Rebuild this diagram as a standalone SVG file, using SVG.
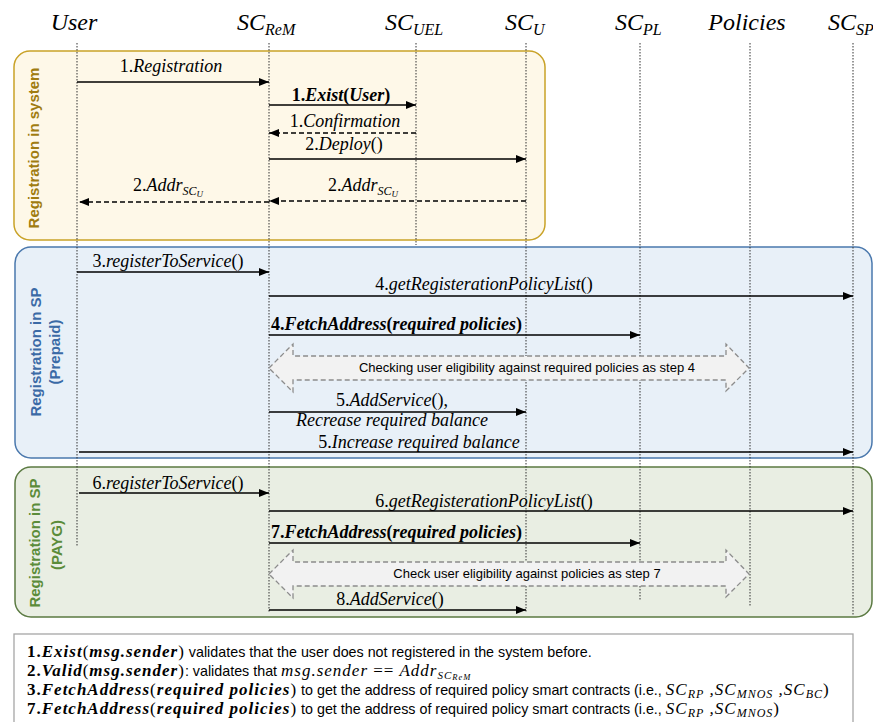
<svg xmlns="http://www.w3.org/2000/svg" width="873" height="722" viewBox="0 0 873 722">
<defs>
<marker id="ah" viewBox="0 0 10 8" refX="10" refY="4" markerWidth="10" markerHeight="8" markerUnits="userSpaceOnUse" orient="auto">
<path d="M0,0 L10,4 L0,8 Z" fill="#000"/>
</marker>
</defs>
<style>
.m{font-family:"Liberation Serif","DejaVu Serif",serif;font-style:italic;font-size:18px;fill:#000}
.t{font-family:"Liberation Serif","DejaVu Serif",serif;font-style:italic;font-size:24px;fill:#000}
.up{font-style:normal}
.b{font-weight:bold}
.s{font-family:"Liberation Sans",Arial,sans-serif;font-size:14.3px;fill:#000;font-style:normal;font-weight:normal;letter-spacing:0}
.lg{font-family:"Liberation Serif","DejaVu Serif",serif;font-style:italic;font-size:17px;fill:#000;letter-spacing:1px}
.side{font-family:"Liberation Sans",Arial,sans-serif;font-weight:bold;font-size:15px;text-anchor:middle}
.life{stroke:#333;stroke-width:1;stroke-dasharray:1.5 1.5;fill:none}
.msg{stroke:#000;stroke-width:1.5;fill:none;marker-end:url(#ah)}
.dash{stroke-dasharray:5 3}
.blk{fill:#f2f2f2;stroke:#8c8c8c;stroke-width:1.3;stroke-dasharray:5 3}
.bt{font-family:"Liberation Sans",Arial,sans-serif;font-size:13px;fill:#000;text-anchor:middle}
</style>
<rect width="873" height="722" fill="#fff"/>

<g id="frame-system">
<rect x="14" y="51" width="531" height="189" rx="16" fill="#fef8e8" stroke="#c9a227" stroke-width="1.5"/>
<text class="side" fill="#a07c10" transform="translate(39,148) rotate(-90)">Registration in system</text>
</g>
<g id="frame-prepaid">
<rect x="15" y="247" width="857" height="211" rx="16" fill="#e8f0f8" stroke="#4a78ad" stroke-width="1.5"/>
<text class="side" fill="#3b6aa6" transform="translate(41,352) rotate(-90)">Registration in SP</text>
<text class="side" fill="#3b6aa6" transform="translate(60,352) rotate(-90)">(Prepaid)</text>
</g>
<g id="frame-payg">
<rect x="15" y="467" width="857" height="150" rx="16" fill="#e9eee3" stroke="#5b7a42" stroke-width="1.5"/>
<text class="side" fill="#5b8c3a" transform="translate(40,543) rotate(-90)">Registration in SP</text>
<text class="side" fill="#5b8c3a" transform="translate(62,545) rotate(-90)">(PAYG)</text>
</g>

<g id="lifeline-user"><text class="t" x="74" y="30" text-anchor="middle">User</text><line class="life" x1="77" y1="43" x2="77" y2="547"/></g>
<g id="lifeline-screm"><text class="t" x="237" y="30">SC<tspan font-size="16" dy="5">ReM</tspan></text><line class="life" x1="269" y1="43" x2="269" y2="613"/></g>
<g id="lifeline-scuel"><text class="t" x="385" y="30">SC<tspan font-size="16" dy="5">UEL</tspan></text><line class="life" x1="416" y1="43" x2="416" y2="245"/></g>
<g id="lifeline-scu"><text class="t" x="505" y="30">SC<tspan font-size="16" dy="5">U</tspan></text><line class="life" x1="526" y1="43" x2="526" y2="612"/></g>
<g id="lifeline-scpl"><text class="t" x="615" y="30">SC<tspan font-size="16" dy="5">PL</tspan></text><line class="life" x1="640" y1="43" x2="640" y2="600"/></g>
<g id="lifeline-policies"><text class="t" x="747" y="30" text-anchor="middle">Policies</text><line class="life" x1="750" y1="43" x2="750" y2="607"/></g>
<g id="lifeline-scsp"><text class="t" x="828" y="30">SC<tspan font-size="16" dy="5">SP</tspan></text><line class="life" x1="853" y1="43" x2="853" y2="615"/></g>

<g id="connectors">
<line class="msg" x1="77" y1="82" x2="269" y2="82"/>
<line class="msg" x1="269" y1="105" x2="416" y2="105"/>
<line class="msg dash" x1="416" y1="133" x2="269" y2="133"/>
<line class="msg" x1="269" y1="159" x2="526" y2="159"/>
<line class="msg dash" x1="526" y1="201" x2="269" y2="201"/>
<line class="msg dash" x1="269" y1="202" x2="79" y2="202"/>

<line class="msg" x1="77" y1="272" x2="269" y2="272"/>
<line class="msg" x1="269" y1="296" x2="853" y2="296"/>
<line class="msg" x1="269" y1="335" x2="640" y2="335"/>
<polygon class="blk" points="269,368 293,344 293,356 726,356 726,344 749,368 726,391 726,380 293,380 293,392"/>
<line class="msg" x1="269" y1="412" x2="526" y2="412"/>
<line class="msg" x1="79" y1="452" x2="853" y2="452"/>

<line class="msg" x1="79" y1="493" x2="269" y2="493"/>
<line class="msg" x1="269" y1="511" x2="853" y2="511"/>
<line class="msg" x1="269" y1="543" x2="640" y2="543"/>
<polygon class="blk" points="269,574 293,550 293,562 726,562 726,550 749,574 726,597 726,586 293,586 293,598"/>
<line class="msg" x1="269" y1="610" x2="526" y2="610"/>
</g>

<g id="labels">
<text class="m" x="171" y="72" text-anchor="middle"><tspan class="up">1.</tspan>Registration</text>
<text class="m b" x="341" y="101" text-anchor="middle"><tspan class="up">1.</tspan>Exist<tspan class="up">(</tspan>User<tspan class="up">)</tspan></text>
<text class="m" x="345" y="127" text-anchor="middle"><tspan class="up">1.</tspan>Confirmation</text>
<text class="m" x="344" y="150" text-anchor="middle"><tspan class="up">2.</tspan>Deploy<tspan class="up">()</tspan></text>
<text class="m" x="133" y="191"><tspan class="up">2.</tspan>Addr<tspan font-size="12" dy="4">SC</tspan><tspan font-size="9" dy="2">U</tspan></text>
<text class="m" x="328" y="191"><tspan class="up">2.</tspan>Addr<tspan font-size="12" dy="4">SC</tspan><tspan font-size="9" dy="2">U</tspan></text>

<text class="m" x="168" y="267" text-anchor="middle"><tspan class="up">3.</tspan>registerToService<tspan class="up">()</tspan></text>
<text class="m" x="484" y="290" text-anchor="middle"><tspan class="up">4.</tspan>getRegisterationPolicyList<tspan class="up">()</tspan></text>
<text class="m b" x="271" y="330"><tspan class="up">4.</tspan>FetchAddress<tspan class="up">(</tspan>required policies<tspan class="up">)</tspan></text>
<text class="bt" x="527" y="372">Checking user eligibility against required policies as step 4</text>
<text class="m" x="392" y="406" text-anchor="middle"><tspan class="up">5.</tspan>AddService<tspan class="up">(),</tspan></text>
<text class="m" x="392" y="426" text-anchor="middle">Recrease required balance</text>
<text class="m" x="419" y="448" text-anchor="middle"><tspan class="up">5.</tspan>Increase required balance</text>

<text class="m" x="168" y="489" text-anchor="middle"><tspan class="up">6.</tspan>registerToService<tspan class="up">()</tspan></text>
<text class="m" x="484" y="507" text-anchor="middle"><tspan class="up">6.</tspan>getRegisterationPolicyList<tspan class="up">()</tspan></text>
<text class="m b" x="271" y="538"><tspan class="up">7.</tspan>FetchAddress<tspan class="up">(</tspan>required policies<tspan class="up">)</tspan></text>
<text class="bt" x="527" y="578">Check user eligibility against policies as step 7</text>
<text class="m" x="390" y="605" text-anchor="middle"><tspan class="up">8.</tspan>AddService<tspan class="up">()</tspan></text>
</g>

<g id="legend">
<rect x="14" y="634" width="839" height="100" fill="#fff" stroke="#a6a6a6" stroke-width="1.3"/>
<text class="lg" x="27" y="657"><tspan class="up b">1.</tspan><tspan class="b">Exist</tspan><tspan class="up">(</tspan><tspan class="b">msg.sender</tspan><tspan class="up">)</tspan><tspan class="s"> validates that the user does not registered in the system before</tspan><tspan class="s" font-weight="bold">.</tspan></text>
<text class="lg" x="27" y="676"><tspan class="up b">2.</tspan><tspan class="b">Valid</tspan><tspan class="up">(</tspan><tspan class="b">msg.sender</tspan><tspan class="up">)</tspan><tspan class="s" font-style="italic">:</tspan><tspan class="s"> validates that </tspan>msg.sender <tspan class="up">==</tspan> Addr<tspan font-size="11" dy="3">SC</tspan><tspan font-size="8.5" dy="1">ReM</tspan></text>
<text class="lg" x="27" y="695"><tspan class="up b">3.</tspan><tspan class="b">FetchAddress</tspan><tspan class="up">(</tspan><tspan class="b">required policies</tspan><tspan class="up">)</tspan><tspan class="s"> to get the address of required policy smart contracts (i.e., </tspan>SC<tspan font-size="12" dy="3">RP</tspan><tspan dy="-3"> ,SC</tspan><tspan font-size="12" dy="3">MNOS</tspan><tspan dy="-3"> ,SC</tspan><tspan font-size="12" dy="3">BC</tspan><tspan class="up" dy="-3">)</tspan></text>
<text class="lg" x="27" y="714"><tspan class="up b">7.</tspan><tspan class="b">FetchAddress</tspan><tspan class="up">(</tspan><tspan class="b">required policies</tspan><tspan class="up">)</tspan><tspan class="s"> to get the address of required policy smart contracts (i.e., </tspan>SC<tspan font-size="12" dy="3">RP</tspan><tspan dy="-3"> ,SC</tspan><tspan font-size="12" dy="3">MNOS</tspan><tspan class="up" dy="-3">)</tspan></text>
</g>
</svg>
